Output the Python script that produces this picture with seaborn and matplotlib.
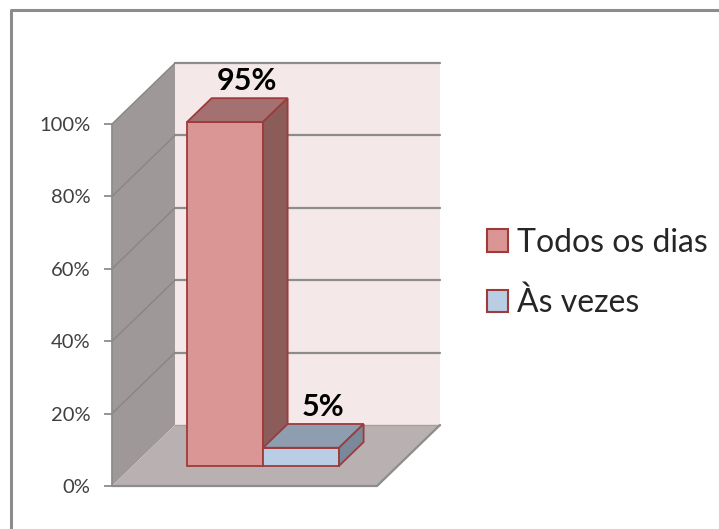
import matplotlib
matplotlib.use("Agg")
import matplotlib.pyplot as plt
from matplotlib.patches import Polygon, Patch, Rectangle
from matplotlib.lines import Line2D
import seaborn as sns
import pandas as pd

# ---- data ----
categories = ["Todos os dias", "Às vezes"]
values = [95, 5]
value_labels = ["95%", "5%"]
yticks = [0, 20, 40, 60, 80, 100]
ytick_labels = ["0%", "20%", "40%", "60%", "80%", "100%"]

# ---- styles ----
front_colors = ["#DA9694", "#B9CDE5"]
top_colors = ["#A57170", "#8E9DB0"]
side_colors = ["#8C5C5B", "#7B8899"]
edge_color = "#9E3B3A"
wall_back = "#F5E8E8"
wall_left = "#9E9898"
floor_col = "#B9B1B1"
grid_col = "#8C8C8C"

sns.set_style("white")
plt.rcParams["font.family"] = ["Lato", "DejaVu Sans"]

fig = plt.figure(figsize=(7.19, 5.29), dpi=100)
ax = fig.add_axes([112 / 719, 1 - 486 / 529, 265 / 719, 362 / 529])

# bars (front faces) via seaborn
df = pd.DataFrame({"cat": categories, "val": values})
sns.barplot(data=df, x="cat", y="val", hue="cat", palette=front_colors, width=1.0,
            edgecolor=edge_color, linewidth=1.3, legend=False, ax=ax, saturation=1)
bars = [p for p in ax.patches if isinstance(p, Rectangle)]

XL, XR = -1.214, 2.273
ax.set_xlim(XL, XR)
ax.set_ylim(0, 100)

# depth (full wall depth) in data units
DX = 63 / 76
DY = 61 / 3.62
F0, F1 = 0.33, 0.72

# walls and floor
ax.add_patch(Polygon([(XL + DX, DY), (XR + DX, DY), (XR + DX, 100 + DY), (XL + DX, 100 + DY)],
                     closed=True, facecolor=wall_back, edgecolor="none", zorder=0, clip_on=False))
ax.add_patch(Polygon([(XL, 0), (XL, 100), (XL + DX, 100 + DY), (XL + DX, DY)],
                     closed=True, facecolor=wall_left, edgecolor="none", zorder=0, clip_on=False))
ax.add_patch(Polygon([(XL, 0), (XR, 0), (XR + DX, DY), (XL + DX, DY)],
                     closed=True, facecolor=floor_col, edgecolor="none", zorder=0.5, clip_on=False))
for v in yticks[1:]:
    ax.plot([XL + DX, XR + DX], [v + DY, v + DY], color=grid_col, lw=1.6, zorder=0.3, clip_on=False)
    ax.plot([XL, XL + DX], [v, v + DY], color="#8A8585", lw=1.0, zorder=0.3, clip_on=False)
ax.plot([XL, XR, XR + DX], [0, 0, DY], color=grid_col, lw=1.6, zorder=0.6, clip_on=False)
ax.plot([XL + DX, XR + DX], [DY, DY], color="#A8A0A0", lw=1.0, zorder=0.55, clip_on=False)

d = (F1 - F0) * DX
dyd = (F1 - F0) * DY
for i, (p, v, lab) in enumerate(zip(bars, values, value_labels)):
    x0 = p.get_x() + F0 * DX
    w = p.get_width()
    y0 = F0 * DY
    p.set_x(x0)
    p.set_y(y0)
    p.set_zorder(3 + i)
    p.set_clip_on(False)
    h = y0 + v
    ax.add_patch(Polygon([(x0, h), (x0 + w, h), (x0 + w + d, h + dyd), (x0 + d, h + dyd)],
                         closed=True, facecolor=top_colors[i], edgecolor=edge_color, lw=1.3,
                         zorder=3 + i + 0.1, clip_on=False))
    ax.add_patch(Polygon([(x0 + w, y0), (x0 + w + d, y0 + dyd), (x0 + w + d, h + dyd), (x0 + w, h)],
                         closed=True, facecolor=side_colors[i], edgecolor=edge_color, lw=1.3,
                         zorder=3 + i + 0.1, clip_on=False))
    ax.text(x0 + w / 2 + d * 0.9, h + dyd + 0.8, lab, ha="center", va="bottom",
            fontsize=22, fontweight="bold", color="black", zorder=10, clip_on=False)

# axes styling
ax.set_xlabel("")
ax.set_ylabel("")
ax.set_xticks([])
ax.set_yticks(yticks)
ax.set_yticklabels(ytick_labels)
ax.tick_params(axis="y", length=5.5, width=1.3, color=grid_col, pad=10,
               labelsize=14.5, labelcolor="#404040", left=True)
for s in ["top", "right", "bottom"]:
    ax.spines[s].set_visible(False)
ax.spines["left"].set_color(grid_col)
ax.spines["left"].set_linewidth(1.3)
ax.spines["left"].set_zorder(1)
ax.patch.set_alpha(0)

# legend
handles = [Patch(facecolor=c, edgecolor=edge_color, linewidth=1.5) for c in front_colors]
fig.legend(handles, categories, loc="center left", bbox_to_anchor=(487 / 719, 1 - 273 / 529),
           frameon=False, fontsize=23, handlelength=0.65, handleheight=0.7,
           handletextpad=0.3, labelspacing=0.95, borderpad=0, borderaxespad=0)

# chart-area border (top and left)
fig.add_artist(Line2D([11 / 719, 11 / 719, 1.0], [0.0, 1 - 10 / 529, 1 - 10 / 529],
                      transform=fig.transFigure, color="#8C8C8C", lw=2.2))

fig.savefig("out.png", dpi=100)
